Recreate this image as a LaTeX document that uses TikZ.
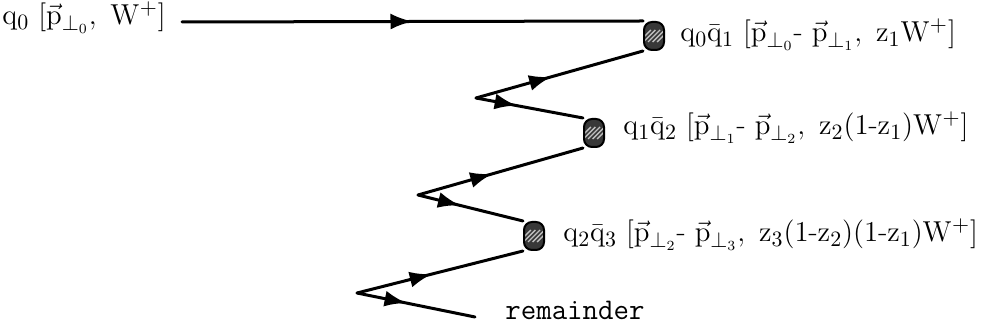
\documentclass[tikz,border=0pt]{standalone}
\usepackage{amsmath}
\usetikzlibrary{decorations.markings,arrows.meta}
\tikzset{
  fline/.style={line width=1.5pt,line cap=round},
  midarr/.style={fline,postaction={decorate},decoration={markings,mark=at position #1 with {\arrow{Latex[length=11pt,width=8pt]}}}},
  blob/.style={draw=black,line width=1pt,fill=black!78,rounded corners=4pt,minimum width=10pt,minimum height=14pt,inner sep=0pt,
    path picture={\foreach \k in {-2,...,2}{\draw[white!75!black,line width=0.7pt] ([xshift=\k*2.3pt-3pt,yshift=-3pt]path picture bounding box.center) -- ++(6pt,6pt);}}},
  lab/.style={anchor=base west,inner sep=0pt,font=\fontsize{15}{18}\selectfont}
}
\newcommand{\pv}{\vec{\mathrm{p}}}
\begin{document}
\begin{tikzpicture}[x=0.5pt,y=-0.5pt]
\useasboundingbox (0,0) rectangle (999,335);
% blobs
\node[blob] (b1) at (654,36) {};
\node[blob] (b2) at (594,133) {};
\node[blob] (b3) at (534,236) {};
% vertices
\coordinate (s) at (182,22);
\coordinate (v1) at (476,98);
\coordinate (v2) at (418,195);
\coordinate (v3) at (357,293);
\coordinate (e) at (475,317);
% lines
\draw[midarr=0.5] (s) -- (b1.north west);
\draw[midarr=0.45] (v1) -- (b1.south west);
\draw[midarr=0.38] (v1) -- (b2.north west);
\draw[midarr=0.45] (v2) -- (b2.south west);
\draw[midarr=0.4] (v2) -- (b3.north west);
\draw[midarr=0.45] (v3) -- (b3.south west);
\draw[midarr=0.42] (v3) -- (e);
% labels
\node[lab] (l0) at (2,25) {$\mathrm{q_0}\ [\pv_{\perp_0},\ \mathrm{W^+}]$};
\node[lab] (l1) at (680,42) {$\mathrm{q_0\bar{q}_1}\ [\pv_{\perp_0}\mbox{-}\ \pv_{\perp_1},\ \mathrm{z_1W^+}]$};
\node[lab] (l2) at (623,135) {$\mathrm{q_1\bar{q}_2}\ [\pv_{\perp_1}\mbox{-}\ \pv_{\perp_2},\ \mathrm{z_2(1\mbox{-}z_1)W^+}]$};
\node[lab] (l3) at (563,242) {$\mathrm{q_2\bar{q}_3}\ [\pv_{\perp_2}\mbox{-}\ \pv_{\perp_3},\ \mathrm{z_3(1\mbox{-}z_2)(1\mbox{-}z_1)W^+}]$};
\node[lab,font=\fontsize{15}{18}\ttfamily] (rm) at (505,320) {remainder};
\end{tikzpicture}
\end{document}
